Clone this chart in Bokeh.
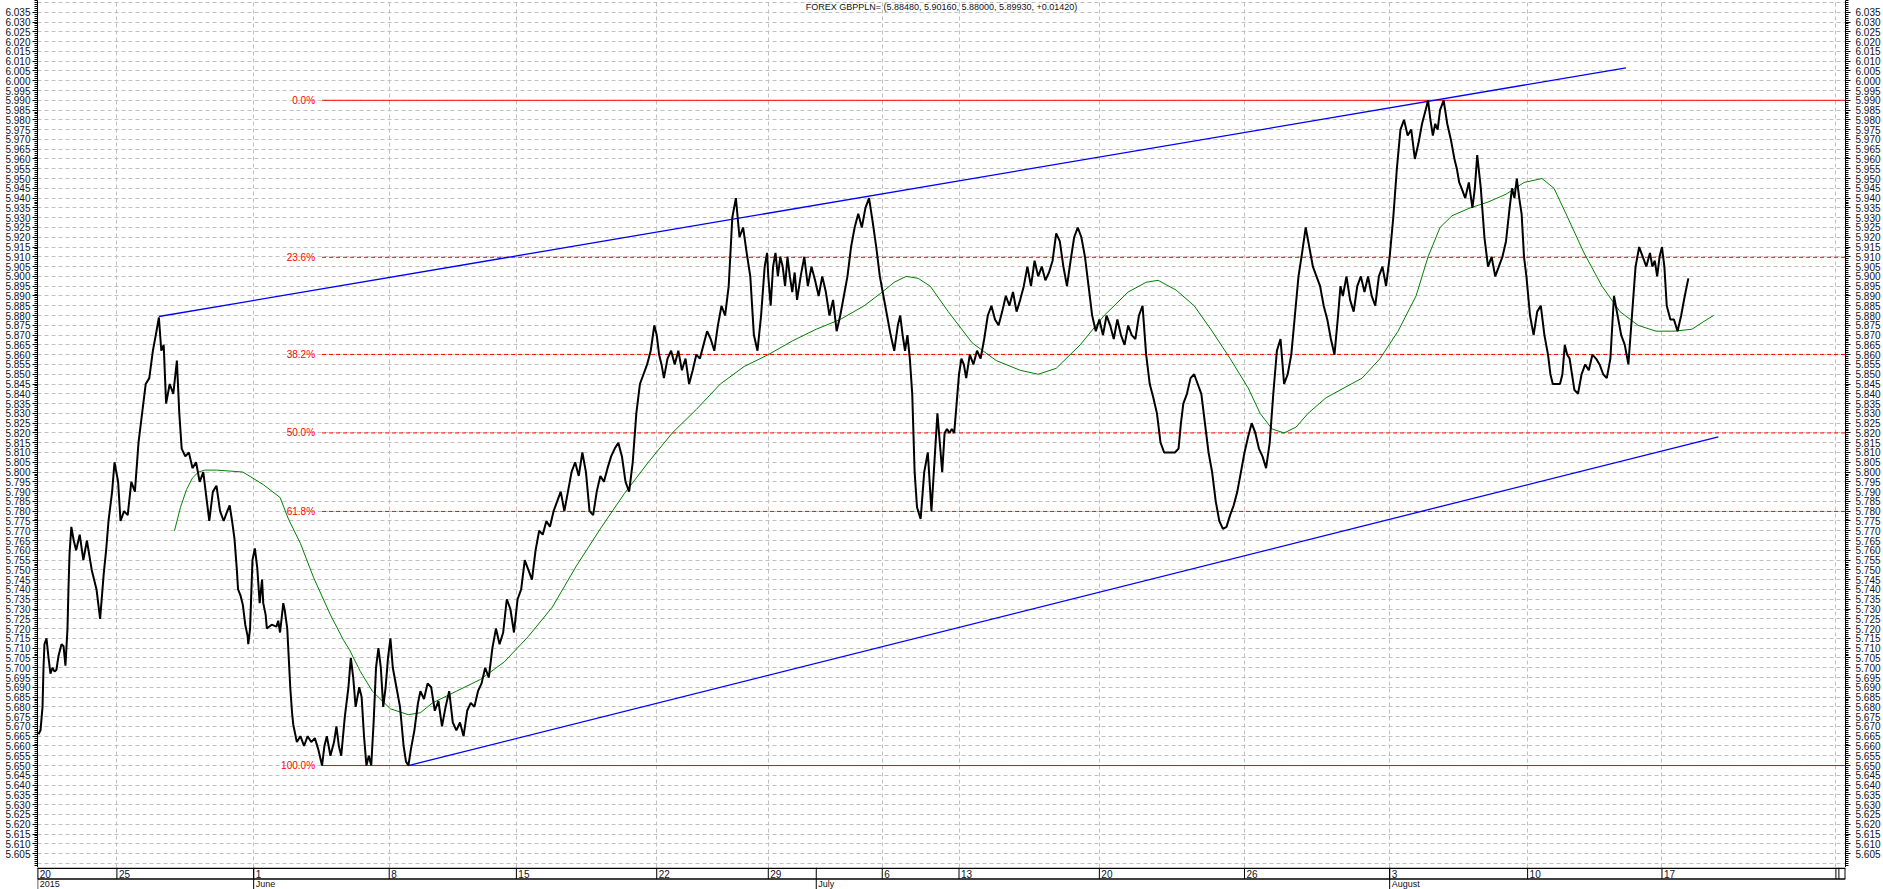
from bokeh.plotting import figure
from bokeh.models import (Range1d, LinearAxis, SingleIntervalTicker, FixedTicker, Grid,
                          PrintfTickFormatter, Label, ColumnDataSource)
from bokeh.layouts import column
from bokeh.embed import file_html
from bokeh.resources import INLINE
from bokeh.core.properties import value

# ---------------- data ----------------
title_text = "FOREX GBPPLN= (5.88480, 5.90160, 5.88000, 5.89930, +0.01420)"

# bar index (trading-time position) and close price
bars = [1.6, 3.3, 5.0, 5.8, 6.6, 8.3, 10.0, 11.6, 13.3, 15.0, 16.6, 18.3, 20.8, 22.5, 24.1, 25.8, 26.6, 27.5, 29,
        31, 33, 36, 39, 42, 46, 50, 53, 56, 58, 60, 63, 65, 68, 70, 73, 76, 79, 82, 85, 88, 91, 94, 97, 100,
        102, 104, 106, 108, 111, 114, 117, 119, 121, 124, 127, 130, 133, 136, 139, 142, 144, 147, 150, 153,
        156, 159, 161, 163, 165, 167, 168, 170, 172, 174, 176, 176.5, 178, 180, 182, 184, 186, 188, 189, 191,
        192, 196, 200, 201.5, 203, 205.7, 207, 209, 210, 211.5, 213, 214, 217, 220, 223, 226, 229, 232, 235,
        238, 240, 242, 245, 248, 250, 252, 254, 257, 260, 262, 264, 266, 269, 271, 273, 275, 277, 279, 281,
        283, 285, 287, 289, 291, 293, 295, 297, 300, 303, 306, 308, 310, 312, 315, 318, 320, 323, 326, 329,
        332, 335, 338, 341, 344, 347, 350, 353, 356, 359, 362, 365, 368, 371, 374, 377, 380, 383, 386, 389,
        392, 395, 398, 401, 404, 407, 410, 413, 416, 419, 422, 425, 428, 431, 434, 437, 440, 443, 446, 449,
        452, 455, 458, 461, 464, 467, 470, 473, 476, 479, 482, 485, 488, 491, 494, 497, 500, 503, 506, 509,
        512, 515, 517, 519, 521, 523, 526, 529, 532, 535, 538, 541, 544, 547, 550, 553, 556, 559, 562, 565,
        568, 571, 574, 577, 580, 583, 586, 589, 592, 595, 598, 601, 604, 607, 609, 610, 612, 614, 616, 618,
        620, 622, 624, 626, 628, 630, 632, 634, 637, 640, 643, 646, 649, 652, 655, 658, 661, 664, 667, 670,
        673, 676, 679, 682, 685, 688, 691, 694, 697, 700, 703, 706, 709, 712, 715, 718, 720, 722, 724, 726,
        728, 730, 732, 734, 737, 740, 743, 746, 749, 751, 753, 755, 757, 759, 761, 763, 765, 767, 769, 771,
        773, 775, 778, 781, 784, 787, 790, 793, 796, 799, 802, 805, 808, 811, 814, 817, 820, 823, 826, 829,
        832, 835, 838, 841, 844, 847, 850, 853, 856, 859, 862, 865, 868, 871, 874, 877, 880, 883, 886, 889,
        892, 895, 898, 901, 904, 907, 910, 913, 916, 919, 922, 925, 928, 931, 934, 937, 940, 943, 946, 949,
        952, 954, 956, 959, 962, 965, 968, 971, 974, 977, 980, 983, 986, 989, 992, 995, 998, 1001, 1004, 1007,
        1010, 1013, 1016, 1019, 1022, 1025, 1028, 1031, 1034, 1037, 1040, 1043, 1046, 1049, 1052, 1055, 1058,
        1061, 1064, 1067, 1070, 1073, 1076, 1079, 1082, 1085, 1087, 1089, 1092, 1095, 1098, 1101, 1104, 1107,
        1110, 1113, 1116, 1119, 1122, 1125, 1128, 1131, 1134, 1137, 1140, 1143, 1146, 1149, 1152, 1155, 1158,
        1160, 1162, 1164, 1166, 1168, 1170, 1173, 1176, 1179, 1182, 1184, 1186, 1188, 1191, 1194, 1197, 1199,
        1201, 1204, 1207, 1210, 1213, 1216, 1219, 1222, 1225, 1228, 1230, 1232, 1234, 1236, 1238, 1240, 1242,
        1245, 1248, 1251, 1254, 1257, 1260, 1262, 1264, 1266, 1268, 1270, 1272, 1274, 1276, 1278, 1280, 1282,
        1285, 1288, 1291, 1294, 1297, 1300, 1303, 1306, 1309, 1312, 1315, 1318, 1321, 1324, 1327, 1330, 1333,
        1336, 1339, 1342, 1345, 1347, 1349, 1351, 1353, 1355, 1357, 1359, 1362, 1365, 1368, 1371, 1374, 1377,
        1380, 1382, 1384, 1386, 1388, 1390, 1392, 1394, 1396, 1398]
closes = [5.666, 5.668, 5.680, 5.700, 5.712, 5.715, 5.705, 5.697, 5.700, 5.698, 5.699, 5.706, 5.712, 5.711, 5.701,
          5.720, 5.740, 5.758, 5.772,
          5.765, 5.760, 5.768, 5.755, 5.765, 5.750, 5.740, 5.725, 5.748, 5.760, 5.775, 5.790, 5.805, 5.795, 5.775,
          5.780, 5.778, 5.795, 5.790, 5.815, 5.830, 5.845, 5.848, 5.862, 5.872,
          5.879, 5.862, 5.865, 5.835, 5.845, 5.840, 5.857, 5.830, 5.812, 5.808, 5.810, 5.802, 5.805, 5.795, 5.800,
          5.785, 5.775, 5.790, 5.793, 5.780,
          5.775, 5.780, 5.783, 5.775, 5.766, 5.750, 5.740, 5.737, 5.732, 5.722, 5.716, 5.712, 5.720, 5.755, 5.761,
          5.751, 5.733, 5.745, 5.733, 5.727,
          5.720, 5.722, 5.721, 5.724, 5.718, 5.733, 5.729, 5.720, 5.708, 5.690, 5.677, 5.671, 5.662, 5.665, 5.660,
          5.665, 5.662, 5.664, 5.658,
          5.650, 5.660, 5.665, 5.655, 5.662, 5.670, 5.660, 5.655, 5.675, 5.690, 5.705, 5.695, 5.680, 5.690, 5.685,
          5.665, 5.650, 5.655, 5.650, 5.672,
          5.700, 5.710, 5.700, 5.680, 5.690, 5.705, 5.715, 5.700, 5.690, 5.680, 5.660, 5.652, 5.650, 5.658, 5.668,
          5.682, 5.688, 5.684, 5.692, 5.690,
          5.678, 5.683, 5.670, 5.680, 5.688, 5.672, 5.668, 5.672, 5.665, 5.678,
          5.682, 5.680, 5.688, 5.692, 5.700, 5.695, 5.710, 5.720, 5.712, 5.718, 5.735, 5.730, 5.718, 5.735, 5.740,
          5.755, 5.750, 5.745, 5.760, 5.770,
          5.768, 5.775, 5.772, 5.780, 5.785, 5.790, 5.780, 5.790, 5.800, 5.805, 5.798, 5.810, 5.800, 5.780, 5.778,
          5.790, 5.798, 5.795, 5.802, 5.808,
          5.812, 5.815, 5.808, 5.795, 5.790, 5.805, 5.830, 5.845, 5.850, 5.855, 5.862, 5.875, 5.870, 5.860, 5.855,
          5.848, 5.858, 5.862, 5.855, 5.862,
          5.852, 5.858, 5.845, 5.852, 5.860, 5.858, 5.865, 5.872, 5.868, 5.862, 5.875, 5.885, 5.880, 5.895, 5.930,
          5.940, 5.920, 5.925, 5.912, 5.900,
          5.870, 5.862, 5.880, 5.905, 5.912, 5.900, 5.885, 5.905, 5.912, 5.900, 5.910, 5.905, 5.895, 5.910, 5.900,
          5.892, 5.902, 5.888, 5.900, 5.910,
          5.895, 5.905, 5.898, 5.890, 5.900, 5.892, 5.880, 5.888, 5.872, 5.880, 5.890, 5.900, 5.915, 5.925, 5.932,
          5.925, 5.935, 5.940, 5.928, 5.915,
          5.900, 5.890, 5.880, 5.870, 5.862, 5.875, 5.880, 5.870, 5.862, 5.870, 5.858, 5.840, 5.800, 5.782, 5.776,
          5.800, 5.810, 5.780, 5.810, 5.830,
          5.815, 5.800, 5.820, 5.822, 5.820, 5.822, 5.820, 5.835, 5.850, 5.858, 5.855, 5.848, 5.860, 5.855, 5.862,
          5.858, 5.868, 5.880, 5.885, 5.878,
          5.875, 5.882, 5.890, 5.885, 5.892, 5.882, 5.888, 5.895, 5.905, 5.895, 5.908, 5.900, 5.905, 5.898, 5.902,
          5.908, 5.922, 5.918, 5.905, 5.895,
          5.908, 5.920, 5.925, 5.920, 5.910, 5.895, 5.880, 5.872, 5.878, 5.870, 5.880, 5.875, 5.868, 5.878, 5.870,
          5.865, 5.875, 5.870, 5.868, 5.880,
          5.885, 5.860, 5.845, 5.838, 5.830, 5.815, 5.810, 5.810, 5.810, 5.810, 5.812, 5.825, 5.835, 5.840, 5.848,
          5.850, 5.845, 5.840, 5.825, 5.810,
          5.800, 5.785, 5.775, 5.771, 5.772, 5.778, 5.783, 5.790, 5.800, 5.810, 5.818, 5.825, 5.820, 5.812, 5.808,
          5.802, 5.815, 5.840, 5.862, 5.868, 5.845, 5.850,
          5.860, 5.880, 5.900, 5.912, 5.925, 5.915, 5.905, 5.900, 5.895, 5.885, 5.878, 5.868, 5.860, 5.880, 5.895,
          5.890, 5.900, 5.888, 5.882,
          5.895, 5.900, 5.892, 5.900, 5.890, 5.885, 5.900, 5.905, 5.895, 5.910, 5.930, 5.955, 5.975, 5.980, 5.972,
          5.975, 5.960, 5.968, 5.978,
          5.985, 5.990, 5.980, 5.972, 5.978, 5.975, 5.985, 5.990, 5.978, 5.970, 5.960, 5.955, 5.948, 5.945, 5.940,
          5.948, 5.935, 5.945, 5.962,
          5.945, 5.920, 5.905, 5.910, 5.900, 5.905, 5.910, 5.918, 5.935, 5.945, 5.940, 5.950, 5.940, 5.932, 5.910,
          5.900, 5.880, 5.870, 5.882,
          5.885, 5.870, 5.860, 5.850, 5.845, 5.845, 5.845, 5.845, 5.850, 5.865, 5.860, 5.858, 5.850, 5.842, 5.840,
          5.850, 5.855, 5.852, 5.860,
          5.858, 5.855, 5.850, 5.848, 5.858, 5.890, 5.880, 5.870, 5.865, 5.855, 5.880, 5.905, 5.915, 5.910, 5.905,
          5.912, 5.905, 5.908, 5.900,
          5.910, 5.915, 5.905, 5.885, 5.878, 5.878, 5.872, 5.880, 5.890, 5.899]

# moving average (green)
ma_bars = [115, 120, 125, 130, 135, 140, 150, 161.5, 172, 189, 203, 210, 220, 231, 245, 256, 261, 270, 280, 295,
           310, 320, 330, 350, 370, 390, 410, 430, 450, 470, 490, 510, 530, 550, 570, 590, 610, 630, 650, 670,
           690, 705, 715, 725, 735, 745, 760, 780, 800, 820, 835, 850, 870, 890, 910, 925, 935, 950, 965, 980,
           995, 1010, 1020, 1030, 1040, 1050, 1060, 1075, 1090, 1105, 1120, 1135, 1150, 1160, 1170, 1180, 1195,
           1210, 1225, 1240, 1255, 1265, 1275, 1290, 1305, 1320, 1335, 1350, 1365, 1380, 1390, 1398]
ma_vals = [5.770, 5.782, 5.791, 5.797, 5.800, 5.801, 5.801, 5.8005, 5.800, 5.7936, 5.787, 5.776, 5.7635, 5.746,
           5.727, 5.714, 5.709, 5.698, 5.688, 5.679, 5.676, 5.677, 5.682, 5.688, 5.694, 5.703, 5.716, 5.731, 5.752,
           5.771, 5.789, 5.805, 5.820, 5.832, 5.845, 5.854, 5.860, 5.867, 5.873, 5.878, 5.885, 5.892, 5.897, 5.900,
           5.899, 5.895, 5.882, 5.866, 5.857, 5.852, 5.850, 5.853, 5.865, 5.880, 5.892, 5.897, 5.898, 5.893, 5.885,
           5.872, 5.858, 5.843, 5.830, 5.822, 5.820, 5.823, 5.830, 5.838, 5.843, 5.848, 5.858, 5.872, 5.890, 5.910,
           5.925, 5.931, 5.935, 5.938, 5.942, 5.948, 5.950, 5.945, 5.932, 5.912, 5.895, 5.882, 5.875, 5.872, 5.872,
           5.873, 5.877, 5.880]

# trend channel (blue)
upper_bars = [102, 1325]
upper_vals = [5.8795, 6.0066]
lower_bars = [310, 1402]
lower_vals = [5.650, 5.818]

# Fibonacci retracement (red)
fib_labels = ["0.0%", "23.6%", "38.2%", "50.0%", "61.8%", "100.0%"]
fib_values = [5.990, 5.90976, 5.86012, 5.820, 5.77988, 5.650]
fib_dashes = ["solid", "4 3", "4 3", "4 3", "4 3", "solid"]
fib_start = 238

# time axis
day_ticks = [1, 67, 181, 294, 400, 517, 610, 705, 769, 886, 1007, 1128, 1243, 1355]
day_labels = ["20", "25", "1", "8", "15", "22", "29", "6", "13", "20", "26", "3", "10", "17"]
end_ticks = [1500, 1502.5]
month_ticks = [1, 181, 650, 1128]
month_labels = ["2015", "June", "July", "August"]

# price axis labels
price_labels = [round(5.605 + 0.005 * i, 3) for i in range(87)]
price_minor = [round(5.598 + 0.001 * i, 3) for i in range(444)]

X0, X1 = 0.8, 1508.0
Y0, Y1 = 5.5979, 6.0410
FONT = "Liberation Sans"

# ---------------- main chart ----------------
p = figure(width=1883, height=867, x_range=Range1d(X0, X1), y_range=Range1d(Y0, Y1),
           x_axis_type=None, y_axis_location="left", output_backend="svg", toolbar_location=None,
           min_border_left=37, min_border_right=36, min_border_top=0, min_border_bottom=0)
p.outline_line_color = None
p.background_fill_color = "white"
p.border_fill_color = "white"

def style_axis(ax, standoff):
    ax.ticker = FixedTicker(ticks=price_labels, minor_ticks=price_minor)
    ax.formatter = PrintfTickFormatter(format="%.3f")
    ax.major_label_text_font = FONT
    ax.major_label_text_font_size = "10px"
    ax.major_label_text_color = "#101020"
    ax.major_tick_out = 5
    ax.major_tick_in = 0
    ax.minor_tick_out = 3
    ax.minor_tick_in = 0
    ax.major_label_standoff = standoff
    ax.axis_line_color = "black"
    ax.major_tick_line_color = "black"
    ax.minor_tick_line_color = "black"

style_axis(p.yaxis[0], 2)
right_axis = LinearAxis()
style_axis(right_axis, 5)
p.add_layout(right_axis, "right")

p.ygrid.ticker = SingleIntervalTicker(interval=0.005)
p.ygrid.grid_line_color = "#c0c0c0"
p.ygrid.grid_line_dash = "4 3"
p.xgrid.visible = False
xg = Grid(dimension=0, ticker=FixedTicker(ticks=day_ticks + end_ticks[:1]), grid_line_color="#c0c0c0",
          grid_line_dash="4 3")
p.add_layout(xg)

# Fibonacci lines
fib_src = ColumnDataSource(dict(x0=[fib_start] * len(fib_values), y=fib_values, lab=fib_labels))
for v, dsh in zip(fib_values, fib_dashes):
    p.segment(x0=fib_start, y0=v, x1=X1, y1=v, line_color="#ff0000", line_width=1, line_dash=dsh)
p.text(x="x0", y="y", text="lab", source=fib_src, text_align="right", text_baseline="middle",
       x_offset=-7, text_color="#ff0000", text_font=value(FONT), text_font_size="10px")

# channel
p.line(upper_bars, upper_vals, line_color="#0000ff", line_width=1.3)
p.line(lower_bars, lower_vals, line_color="#0000ff", line_width=1.3)

# moving average
p.line(ma_bars, ma_vals, line_color="#008000", line_width=1)

# price
p.line(bars, closes, line_color="black", line_width=2)

p.add_layout(Label(x=(X0 + X1) / 2, y=Y1, y_offset=-6, text=title_text, text_align="center",
                   text_baseline="middle", text_font=FONT, text_font_size="9px", text_color="#101020"))

# ---------------- date rows ----------------
d = figure(width=1883, height=22, x_range=p.x_range, y_range=Range1d(0, 22),
           x_axis_type=None, y_axis_type=None, output_backend="svg", toolbar_location=None,
           min_border_left=37, min_border_right=36, min_border_top=0, min_border_bottom=0)
d.outline_line_color = None
d.xgrid.visible = False
d.ygrid.visible = False
d.background_fill_color = "white"
d.border_fill_color = "white"

d.segment(x0=[X0, X0], y0=[21.2, 10.5], x1=[X1, X1], y1=[21.2, 10.5], line_color="black", line_width=1.6)
d.segment(x0=day_ticks + end_ticks, y0=[10.5] * (len(day_ticks) + 2), x1=day_ticks + end_ticks,
          y1=[22] * (len(day_ticks) + 2), line_color="black", line_width=1)
d.segment(x0=month_ticks, y0=[0] * len(month_ticks), x1=month_ticks, y1=[22] * len(month_ticks),
          line_color="black", line_width=1)
d.segment(x0=[X1], y0=[10.5], x1=[X1], y1=[22], line_color="black", line_width=2)
d.text(x=day_ticks, y=[16] * len(day_ticks), text=day_labels, x_offset=2, text_baseline="middle",
       text_font=value(FONT), text_font_size="10px", text_color="#101020")
d.text(x=month_ticks, y=[5.6] * len(month_ticks), text=month_labels, x_offset=2, text_baseline="middle",
       text_font=value(FONT), text_font_size="9px", text_color="#101020")

layout = column(p, d, spacing=0)
open("out.html", "w").write(file_html(layout, INLINE))
